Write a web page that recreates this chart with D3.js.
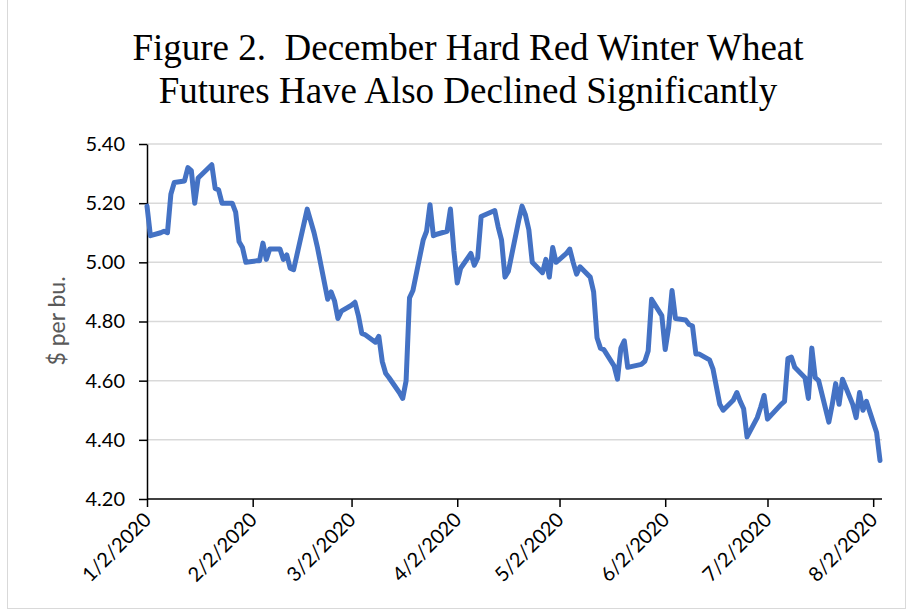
<!DOCTYPE html>
<html>
<head>
<meta charset="utf-8">
<script src="https://cdn.jsdelivr.net/npm/d3@7"></script>
<style>
  body { margin: 0; background: #fff; }
  svg { display: block; }
</style>
</head>
<body>
<script>
// December HRW wheat futures, daily settle ($/bu)
var dates = [
  '2020-01-02','2020-01-03','2020-01-06','2020-01-07','2020-01-08','2020-01-09','2020-01-10',
  '2020-01-13','2020-01-14','2020-01-15','2020-01-16','2020-01-17','2020-01-21','2020-01-22',
  '2020-01-23','2020-01-24','2020-01-27','2020-01-28','2020-01-29','2020-01-30','2020-01-31',
  '2020-02-03','2020-02-04','2020-02-05','2020-02-06','2020-02-07','2020-02-10','2020-02-11',
  '2020-02-12','2020-02-13','2020-02-14','2020-02-18','2020-02-19','2020-02-20','2020-02-21',
  '2020-02-24','2020-02-25','2020-02-26','2020-02-27','2020-02-28',
  '2020-03-02','2020-03-03','2020-03-04','2020-03-05','2020-03-06','2020-03-09','2020-03-10',
  '2020-03-11','2020-03-12','2020-03-13','2020-03-16','2020-03-17','2020-03-18','2020-03-19',
  '2020-03-20','2020-03-23','2020-03-24','2020-03-25','2020-03-26','2020-03-27','2020-03-30',
  '2020-03-31',
  '2020-04-01','2020-04-02','2020-04-03','2020-04-06','2020-04-07','2020-04-08','2020-04-09',
  '2020-04-13','2020-04-14','2020-04-15','2020-04-16','2020-04-17','2020-04-20','2020-04-21',
  '2020-04-22','2020-04-23','2020-04-24','2020-04-27','2020-04-28','2020-04-29','2020-04-30',
  '2020-05-01','2020-05-04','2020-05-05','2020-05-06','2020-05-07','2020-05-08','2020-05-11',
  '2020-05-12','2020-05-13','2020-05-14','2020-05-15','2020-05-18','2020-05-19','2020-05-20',
  '2020-05-21','2020-05-22','2020-05-26','2020-05-27','2020-05-28','2020-05-29',
  '2020-06-01','2020-06-02','2020-06-03','2020-06-04','2020-06-05','2020-06-08','2020-06-09',
  '2020-06-10','2020-06-11','2020-06-12','2020-06-15','2020-06-16','2020-06-17','2020-06-18',
  '2020-06-19','2020-06-22','2020-06-23','2020-06-24','2020-06-25','2020-06-26','2020-06-29',
  '2020-06-30',
  '2020-07-01','2020-07-02','2020-07-06','2020-07-07','2020-07-08','2020-07-09','2020-07-10',
  '2020-07-13','2020-07-14','2020-07-15','2020-07-16','2020-07-17','2020-07-20','2020-07-21',
  '2020-07-22','2020-07-23','2020-07-24','2020-07-27','2020-07-28','2020-07-29','2020-07-30',
  '2020-07-31','2020-08-03','2020-08-04'
];
var prices = [
  5.19, 5.09, 5.10, 5.105, 5.10, 5.23, 5.27,
  5.275, 5.32, 5.31, 5.20, 5.285, 5.33, 5.25,
  5.245, 5.20, 5.20, 5.17, 5.07, 5.05, 5.00,
  5.005, 5.005, 5.065, 5.01, 5.045, 5.045, 5.01,
  5.025, 4.98, 4.975, 5.18, 5.14, 5.10, 5.05,
  4.875, 4.90, 4.87, 4.81, 4.835,
  4.855, 4.865, 4.82, 4.76, 4.755, 4.73, 4.75,
  4.665, 4.625, 4.61, 4.56, 4.54, 4.60, 4.88,
  4.905, 5.075, 5.105, 5.195, 5.09, 5.095, 5.105,
  5.18,
  5.04, 4.93, 4.98, 5.03, 4.99, 5.015, 5.155,
  5.175, 5.12, 5.075, 4.95, 4.97, 5.14, 5.19,
  5.16, 5.11, 5.00, 4.965, 5.01, 4.95, 5.05,
  5.00, 5.03, 5.045, 5.00, 4.96, 4.985, 4.95,
  4.90, 4.745, 4.71, 4.705, 4.65, 4.605, 4.71,
  4.735, 4.645, 4.655, 4.665, 4.70, 4.875,
  4.82, 4.705, 4.78, 4.905, 4.81, 4.805, 4.79,
  4.785, 4.69, 4.69, 4.67, 4.64, 4.58, 4.52,
  4.50, 4.535, 4.56, 4.53, 4.505, 4.41, 4.475,
  4.51,
  4.55, 4.47, 4.52, 4.53, 4.675, 4.68, 4.645,
  4.61, 4.54, 4.71, 4.61, 4.60, 4.46, 4.52,
  4.59, 4.52, 4.605, 4.52, 4.475, 4.56, 4.50,
  4.53, 4.425, 4.33
];
var yTicks = [4.20, 4.40, 4.60, 4.80, 5.00, 5.20, 5.40];
var xTickLabels = ['1/2/2020','2/2/2020','3/2/2020','4/2/2020','5/2/2020','6/2/2020','7/2/2020','8/2/2020'];
var titleLines = ['Figure 2.  December Hard Red Winter Wheat', 'Futures Have Also Declined Significantly'];
var yLabel = '$ per bu.';

var parse = d3.timeParse('%Y-%m-%d'),
    tickParse = d3.timeParse('%m/%d/%Y');
var data = dates.map(function(d, i) { return { date: parse(d), price: prices[i] }; });

var width = 915, height = 613,
    plot = { left: 147, right: 880, top: 144, bottom: 499 };

var svg = d3.select('body').append('svg')
    .attr('width', width)
    .attr('height', height);

// chart border
svg.append('rect')
    .attr('x', 7.5).attr('y', -2)
    .attr('width', 898).attr('height', 610.5)
    .attr('fill', 'none')
    .attr('stroke', '#d9d9d9');

var x = d3.scaleTime()
    .domain([parse('2020-01-02'), parse('2020-08-04')])
    .range([plot.left, plot.right]);
var y = d3.scaleLinear()
    .domain([4.2, 5.4])
    .range([plot.bottom, plot.top]);

// title
svg.append('text')
    .attr('x', 468).attr('y', 60)
    .attr('text-anchor', 'middle')
    .style('font-family', '"Liberation Serif", "Times New Roman", serif')
    .style('font-size', '37px')
    .style('white-space', 'pre')
    .selectAll('tspan')
    .data(titleLines)
    .enter().append('tspan')
     .attr('x', 468)
     .attr('dy', function(d, i) { return i ? 43 : 0; })
     .text(function(d) { return d; });

// gridlines
svg.append('g')
    .selectAll('line')
    .data(yTicks.slice(1))
    .enter().append('line')
     .attr('x1', plot.left).attr('x2', plot.right + 2)
     .attr('y1', function(d) { return y(d); })
     .attr('y2', function(d) { return y(d); })
     .attr('stroke', '#d9d9d9')
     .attr('stroke-width', 1.5);

var yAxis = d3.axisLeft(y)
    .tickValues(yTicks)
    .tickFormat(d3.format('.2f'))
    .tickSize(8)
    .tickSizeOuter(0)
    .tickPadding(14);

var gy = svg.append('g')
    .attr('class', 'y axis')
    .attr('transform', 'translate(' + plot.left + ',0)')
    .call(yAxis);

var xAxis = d3.axisBottom(x)
    .tickValues(xTickLabels.map(function(s) { return tickParse(s); }))
    .tickFormat(function(d, i) { return xTickLabels[i]; })
    .tickSize(8)
    .tickSizeOuter(0);

var gx = svg.append('g')
    .attr('class', 'x axis')
    .attr('transform', 'translate(0,' + plot.bottom + ')')
    .call(xAxis);

gx.selectAll('text')
    .attr('text-anchor', 'end')
    .attr('dy', null)
    .attr('y', 0)
    .attr('transform', 'translate(5,22) rotate(-45)');

[gx, gy].forEach(function(g) {
  g.select('.domain').attr('stroke', '#000').attr('stroke-width', 1.5);
  g.selectAll('.tick line').attr('stroke', '#000').attr('stroke-width', 1.5);
  g.selectAll('text')
    .attr('fill', '#000')
    .style('font-family', 'Lato, "Open Sans", sans-serif')
    .style('font-size', '20px');
});
gx.select('.domain').attr('d', 'M' + plot.left + ',0H' + (plot.right + 2));

// y axis title
svg.append('text')
    .attr('transform', 'translate(65,321) rotate(-90)')
    .attr('text-anchor', 'middle')
    .attr('fill', '#595959')
    .style('font-family', 'Lato, "Open Sans", sans-serif')
    .style('font-size', '23px')
    .text(yLabel);

var line = d3.line()
    .x(function(d) { return x(d.date); })
    .y(function(d) { return y(d.price); });

svg.append('path')
    .datum(data)
    .attr('class', 'line')
    .attr('d', line)
    .attr('fill', 'none')
    .attr('stroke', '#4472c4')
    .attr('stroke-width', 5)
    .attr('stroke-linejoin', 'round')
    .attr('stroke-linecap', 'round');
</script>
</body>
</html>
